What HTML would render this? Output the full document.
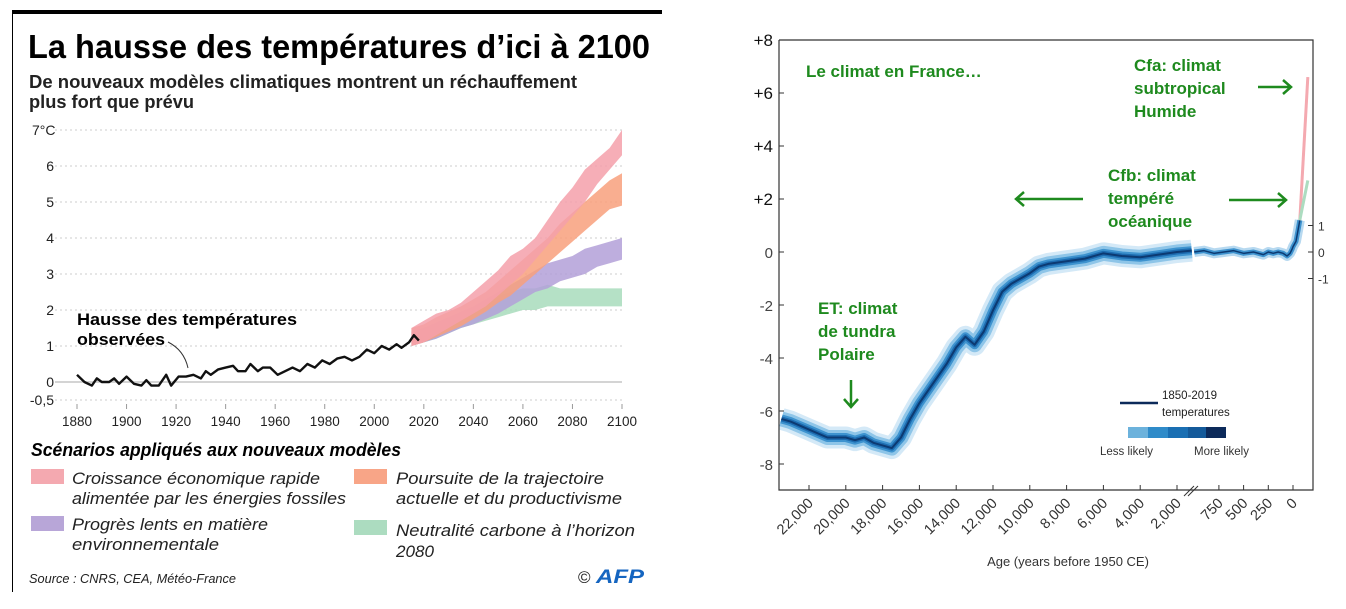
<!DOCTYPE html>
<html><head><meta charset="utf-8">
<style>
html,body{margin:0;padding:0;background:#fff;}
svg{display:block;font-family:"Liberation Sans",sans-serif;}
</style></head>
<body>
<svg id="chart" width="1346" height="609" viewBox="0 0 1346 609" xmlns="http://www.w3.org/2000/svg">
  <g id="left">
    <rect x="12" y="10" width="650" height="4" fill="#000"/>
    <line x1="12.5" y1="14" x2="12.5" y2="592" stroke="#000" stroke-width="1"/>
    <text x="28" y="58" font-size="33" font-weight="bold" textLength="622" lengthAdjust="spacingAndGlyphs">La hausse des températures d’ici à 2100</text>
    <text x="29" y="88" font-size="18" font-weight="bold" fill="#222" textLength="548" lengthAdjust="spacingAndGlyphs">De nouveaux modèles climatiques montrent un réchauffement</text>
    <text x="29" y="108" font-size="18" font-weight="bold" fill="#222" textLength="165" lengthAdjust="spacingAndGlyphs">plus fort que prévu</text>
    <g id="lgrid"></g>
    <g id="lbands"></g>
    <g id="lobs"></g>
    <text x="77" y="325" font-size="17" font-weight="bold" textLength="220" lengthAdjust="spacingAndGlyphs">Hausse des températures</text>
    <text x="77" y="345" font-size="17" font-weight="bold" textLength="88" lengthAdjust="spacingAndGlyphs">observées</text>
    <path d="M168 342 Q184 350 188 368" fill="none" stroke="#333" stroke-width="1"/>
    <text x="31" y="456" font-size="18" font-weight="bold" font-style="italic" textLength="370" lengthAdjust="spacingAndGlyphs">Scénarios appliqués aux nouveaux modèles</text>
    <g>
      <rect x="31" y="469" width="33" height="15" fill="#f4a9b0"/>
      <text x="72" y="484" font-size="17" font-style="italic" fill="#222" textLength="248" lengthAdjust="spacingAndGlyphs">Croissance économique rapide</text>
      <text x="72" y="504" font-size="17" font-style="italic" fill="#222" textLength="274" lengthAdjust="spacingAndGlyphs">alimentée par les énergies fossiles</text>
    </g>
    <g>
      <rect x="354" y="469" width="33" height="15" fill="#f8a587"/>
      <text x="396" y="484" font-size="17" font-style="italic" fill="#222" textLength="208" lengthAdjust="spacingAndGlyphs">Poursuite de la trajectoire</text>
      <text x="396" y="504" font-size="17" font-style="italic" fill="#222" textLength="226" lengthAdjust="spacingAndGlyphs">actuelle et du productivisme</text>
    </g>
    <g>
      <rect x="31" y="516" width="33" height="15" fill="#b8a6d8"/>
      <text x="72" y="530" font-size="17" font-style="italic" fill="#222" textLength="196" lengthAdjust="spacingAndGlyphs">Progrès lents en matière</text>
      <text x="72" y="550" font-size="17" font-style="italic" fill="#222" textLength="147" lengthAdjust="spacingAndGlyphs">environnementale</text>
    </g>
    <g>
      <rect x="354" y="520" width="33" height="15" fill="#acdcc0"/>
      <text x="396" y="536" font-size="17" font-style="italic" fill="#222" textLength="239" lengthAdjust="spacingAndGlyphs">Neutralité carbone à l’horizon</text>
      <text x="396" y="557" font-size="17" font-style="italic" fill="#222" textLength="38" lengthAdjust="spacingAndGlyphs">2080</text>
    </g>
    <text x="29" y="583" font-size="13" font-style="italic" fill="#222" textLength="207" lengthAdjust="spacingAndGlyphs">Source : CNRS, CEA, Météo-France</text>
    <text x="578" y="583" font-size="17" fill="#222">©</text>
    <text x="596" y="583" font-size="19" font-weight="bold" font-style="italic" fill="#1565c0" textLength="48" lengthAdjust="spacingAndGlyphs">AFP</text>
  </g>
  <g id="right">
    <g id="rband"></g>
    <g id="raxes"></g>
    <g fill="#1e8a1e" font-weight="bold" font-size="17">
      <text x="806" y="77">Le climat en France…</text>
      <text x="1134" y="71">Cfa: climat</text>
      <text x="1134" y="94">subtropical</text>
      <text x="1134" y="117">Humide</text>
      <text x="1108" y="181">Cfb: climat</text>
      <text x="1108" y="204">tempéré</text>
      <text x="1108" y="227">océanique</text>
      <text x="818" y="314">ET: climat</text>
      <text x="818" y="337">de tundra</text>
      <text x="818" y="360">Polaire</text>
    </g>
    <g stroke="#1e8a1e" stroke-width="2.5" fill="none">
      <path d="M1258 87 H1291 M1283 80 L1291 87 L1283 94"/>
      <path d="M1083 199 H1016 M1024 192 L1016 199 L1024 206"/>
      <path d="M1229 200 H1286 M1278 193 L1286 200 L1278 207"/>
      <path d="M851 380 V407 M844 399 L851 407 L858 399"/>
    </g>
    <g>
      <line x1="1120" y1="403" x2="1158" y2="403" stroke="#0c2a5a" stroke-width="2.5"/>
      <text x="1162" y="399" font-size="11.5" fill="#222">1850-2019</text>
      <text x="1162" y="416" font-size="11.5" fill="#222">temperatures</text>
      <rect x="1128" y="427" width="20" height="11" fill="#6cb2dc"/>
      <rect x="1148" y="427" width="20" height="11" fill="#2f8bc9"/>
      <rect x="1168" y="427" width="20" height="11" fill="#1a6fb3"/>
      <rect x="1188" y="427" width="18" height="11" fill="#145a9a"/>
      <rect x="1206" y="427" width="20" height="11" fill="#0c2a5a"/>
      <text x="1100" y="455" font-size="11.5" fill="#333">Less likely</text>
      <text x="1194" y="455" font-size="11.5" fill="#333">More likely</text>
    </g>
    <text x="1068" y="566" font-size="13" fill="#333" text-anchor="middle">Age (years before 1950 CE)</text>
  </g>
</svg>
<script>
// ---------- Left chart data ----------
const obsYears = [1880,1883,1886,1888,1890,1893,1895,1897,1900,1903,1906,1908,1910,1913,1916,1918,1921,1924,1927,1930,1932,1934,1937,1940,1943,1945,1948,1950,1953,1955,1958,1961,1964,1967,1970,1973,1976,1979,1982,1985,1988,1991,1994,1997,2000,2003,2006,2009,2011,2014,2016,2018];
const obsValues = [0.2,0.0,-0.1,0.1,0.0,0.0,0.1,-0.05,0.15,-0.05,-0.1,0.05,-0.1,-0.1,0.2,-0.1,0.15,0.15,0.2,0.1,0.3,0.2,0.35,0.4,0.45,0.3,0.3,0.5,0.3,0.4,0.4,0.2,0.3,0.4,0.3,0.5,0.4,0.6,0.5,0.65,0.7,0.6,0.7,0.9,0.8,1.0,0.9,1.05,0.95,1.1,1.3,1.15];
const scenYears = [2015,2020,2025,2030,2035,2040,2045,2050,2055,2060,2065,2070,2075,2080,2085,2090,2095,2100];
const greenUpper = [1.4,1.5,1.65,1.8,1.9,2.0,2.2,2.4,2.5,2.6,2.6,2.7,2.6,2.6,2.6,2.6,2.6,2.6];
const greenLower = [1.0,1.1,1.2,1.35,1.5,1.6,1.7,1.8,1.9,2.0,2.0,2.1,2.1,2.1,2.1,2.1,2.1,2.1];
const purpleUpper = [1.4,1.5,1.65,1.8,1.95,2.1,2.3,2.5,2.7,2.9,3.1,3.3,3.4,3.5,3.7,3.8,3.9,4.0];
const purpleLower = [1.0,1.1,1.2,1.35,1.5,1.6,1.75,1.9,2.1,2.3,2.5,2.6,2.8,2.9,3.0,3.2,3.3,3.4];
const orangeUpper = [1.5,1.6,1.8,1.95,2.1,2.3,2.5,2.8,3.1,3.4,3.7,4.0,4.4,4.7,5.0,5.3,5.6,5.8];
const orangeLower = [1.0,1.1,1.25,1.4,1.55,1.75,1.95,2.2,2.4,2.7,3.0,3.3,3.6,3.9,4.2,4.5,4.8,4.9];
const pinkUpper = [1.5,1.7,1.9,2.0,2.2,2.5,2.8,3.1,3.5,3.7,4.0,4.5,5.0,5.4,5.9,6.2,6.5,7.0];
const pinkLower = [1.0,1.1,1.3,1.5,1.7,1.9,2.1,2.4,2.7,3.0,3.4,3.8,4.2,4.6,5.0,5.5,5.9,6.3];
const lYTicks = [7,6,5,4,3,2,1,0,-0.5];
const lYLabels = ["7°C","6","5","4","3","2","1","0","-0,5"];
const lXTicks = [1880,1900,1920,1940,1960,1980,2000,2020,2040,2060,2080,2100];

// ---------- Right chart data ----------
const paleoAges = [23500,23000,22000,21000,20000,19500,19000,18500,18000,17500,17000,16500,16000,15500,15000,14500,14000,13500,13000,12500,12000,11500,11000,10500,10000,9500,9000,8000,7000,6000,5000,4000,3000,2000,1200];
const paleoValues = [-6.3,-6.4,-6.7,-7.0,-7.0,-7.1,-7.0,-7.2,-7.3,-7.4,-7.0,-6.3,-5.7,-5.2,-4.7,-4.2,-3.6,-3.2,-3.5,-3.0,-2.2,-1.5,-1.2,-1.0,-0.8,-0.55,-0.45,-0.35,-0.25,-0.05,-0.15,-0.2,-0.1,0.0,0.05];
const recentAges = [1000,900,800,700,600,500,400,300,250,200,150,100,60,30,10,0,-30,-50,-69];
const recentValues = [0.0,0.05,-0.05,0.0,0.05,-0.05,0.0,-0.1,0.0,-0.05,0.0,-0.05,-0.15,-0.05,0.1,0.2,0.4,0.8,1.2];
const projAges = [-69,-150];
const pinkProj = [1.2,6.6];
const greenProj = [1.2,2.7];
const rYTicks = [8,6,4,2,0,-2,-4,-6,-8];
const rYLabels = ["+8","+6","+4","+2","0","-2","-4","-6","-8"];
const rXTicksOld = [22000,20000,18000,16000,14000,12000,10000,8000,6000,4000,2000];
const rXLabelsOld = ["22,000","20,000","18,000","16,000","14,000","12,000","10,000","8,000","6,000","4,000","2,000"];
const rXTicksNew = [750,500,250,0];
const rXLabelsNew = ["750","500","250","0"];
const rRightTicks = [1,0,-1];

const NS = "http://www.w3.org/2000/svg";
function mk(tag, attrs, parent){ const e=document.createElementNS(NS,tag); for(const k in attrs) e.setAttribute(k,attrs[k]); parent.appendChild(e); return e; }

// left scales
const lx = y => 77 + (y-1880)*(622-77)/220;
const ly = v => 382 - v*36;
const lgrid = document.getElementById('lgrid');
lYTicks.forEach((t,i)=>{
  const g = mk('line',{x1:55,x2:622,y1:ly(t),y2:ly(t),stroke: t===0?'#bbb':'#ccc','stroke-width':t===0?1.2:1,'stroke-dasharray':t===0?'':'2,3'},lgrid);
  
  
  const tx = mk('text',{x: i===0?32:54, y: ly(t)+5,'font-size':14,fill:'#222','text-anchor': i===0?'start':'end'},lgrid);
  tx.textContent = lYLabels[i];
  
  
});
lXTicks.forEach(t=>{
  const l = mk('line',{x1:lx(t),x2:lx(t),y1:404,y2:409,stroke:'#999'},lgrid);
  
  
  const tx = mk('text',{x:lx(t),y:426,'font-size':13.5,fill:'#222','text-anchor':'middle'},lgrid);
  tx.textContent = t;
  
  
});
function band(up, lo, color, name){
  let d = 'M'+scenYears.map((y,i)=>lx(y)+' '+ly(up[i])).join(' L');
  d += ' L'+scenYears.slice().reverse().map((y,i)=>lx(y)+' '+ly(lo[lo.length-1-i])).join(' L')+'Z';
  const p = mk('path',{d:d,fill:color,opacity:0.85},document.getElementById('lbands'));
  
  
}
band(greenUpper,greenLower,'#a8dcbc','band-neutral');
band(purpleUpper,purpleLower,'#b3a0d8','band-slow');
band(orangeUpper,orangeLower,'#f8a07c','band-current');
band(pinkUpper,pinkLower,'#f4a0aa','band-fossil');
const obs = mk('polyline',{points:obsYears.map((y,i)=>lx(y)+','+ly(obsValues[i])).join(' '),fill:'none',stroke:'#111','stroke-width':2.4,'stroke-linejoin':'round'},document.getElementById('lobs'));



// right scales
const ry = v => 252 - v*26.5;
const rxOld = a => 1177 + (2000-a)*0.0184;
const rxNew = a => 1293 - a*0.0988;
const rb = document.getElementById('rband');
function strokes(pts, name){
  [[22,'#d4e9f7'],[15,'#8ec5e8'],[9,'#3e93cf'],[5,'#1d6cb0'],[2,'#0c3a72']].forEach(([w,c])=>{
    const p = mk('polyline',{points:pts,fill:'none',stroke:c,'stroke-width':w,'stroke-linejoin':'round','stroke-linecap':'butt'},rb);
    
    
  });
}
strokes(paleoAges.map((a,i)=>rxOld(a)+','+ry(paleoValues[i])).join(' '),'paleo-band');
const recentPts = recentAges.map((a,i)=>rxNew(a)+','+ry(recentValues[i])).join(' ');
[[10,'#b7d9f0'],[5,'#3e93cf'],[1.5,'#0c3a72']].forEach(([w,c])=>{
  const p = mk('polyline',{points:recentPts,fill:'none',stroke:c,'stroke-width':w,'stroke-linejoin':'round'},rb);
  
  
});
const pp = mk('polyline',{points:projAges.map((a,i)=>rxNew(a)+','+ry(pinkProj[i])).join(' '),fill:'none',stroke:'#f4a9b0','stroke-width':3},rb);


const gp = mk('polyline',{points:projAges.map((a,i)=>rxNew(a)+','+ry(greenProj[i])).join(' '),fill:'none',stroke:'#acdcc0','stroke-width':3},rb);



const ra = document.getElementById('raxes');
const frame = mk('path',{d:'M779 40 V490 H1313 V40 H779',fill:'none',stroke:'#333','stroke-width':1.2},ra);


rYTicks.forEach((t,i)=>{
  const l = mk('line',{x1:779,x2:784,y1:ry(t),y2:ry(t),stroke:'#333'},ra);
  
  
  const tx = mk('text',{x:773,y:ry(t)+6,'font-size': t>0?17:15,fill: t>0?'#111':'#444','text-anchor':'end'},ra);
  tx.textContent = rYLabels[i];
  
  
});
rRightTicks.forEach(t=>{
  const l = mk('line',{x1:1308,x2:1313,y1:ry(t),y2:ry(t),stroke:'#333'},ra);
  
  
  const tx = mk('text',{x:1318,y:ry(t)+5,'font-size':12,fill:'#333'},ra);
  tx.textContent = t;
  
  
});
function xt(x,label){
  const l = mk('line',{x1:x,x2:x,y1:485,y2:490,stroke:'#333'},ra);
  
  
  const tx = mk('text',{x:x+5,y:504,'font-size':14.5,fill:'#333','text-anchor':'end',transform:'rotate(-45 '+(x+5)+' 504)'},ra);
  tx.textContent = label;
  
  
}
rXTicksOld.forEach((t,i)=>xt(rxOld(t),rXLabelsOld[i]));
rXTicksNew.forEach((t,i)=>xt(rxNew(t),rXLabelsNew[i]));
const br = mk('path',{d:'M1184 496 L1194 486 M1188 496 L1198 486',stroke:'#333','stroke-width':1,fill:'none'},ra);


</script>
</body></html>
